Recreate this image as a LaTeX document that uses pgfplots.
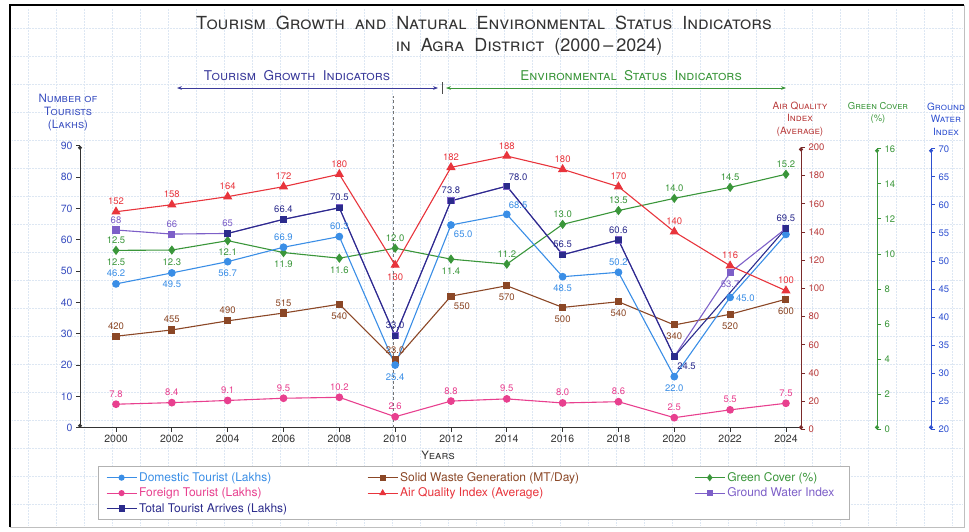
\documentclass[border=0pt]{standalone}
\usepackage{pgfplots}
\pgfplotsset{compat=1.18}
\usepackage{pgfplotstable}
\usepackage{fontspec}
\setmainfont{TeX Gyre Heros}
\usetikzlibrary{arrows.meta}

\definecolor{cDom}{HTML}{3A8EE6}
\definecolor{cFor}{HTML}{E8408F}
\definecolor{cTot}{HTML}{2B2B8C}
\definecolor{cSW}{HTML}{8B4726}
\definecolor{cAQI}{HTML}{E8343C}
\definecolor{cGrn}{HTML}{3A963A}
\definecolor{cGW}{HTML}{7D5FC8}
\definecolor{cAxL}{HTML}{3A4FC0}
\definecolor{cAQIax}{HTML}{7A2A2A}
\definecolor{cAQItxt}{HTML}{B83A3A}
\definecolor{cGWax}{HTML}{2E50D0}
\definecolor{cTitle}{HTML}{333333}
\definecolor{cGrid}{HTML}{DDE7F3}
\definecolor{cTour}{HTML}{3B3B9B}

% label placement helpers (label above, below, right, above-right, below-right)
\DeclareRobustCommand{\lN}[1]{\raisebox{7pt}{#1}}
\DeclareRobustCommand{\lS}[1]{\raisebox{-15pt}{#1}}
\DeclareRobustCommand{\lE}[1]{\rlap{\hspace{6pt}\raisebox{-4pt}{#1}}}
\DeclareRobustCommand{\lNE}[1]{\rlap{\hspace{2pt}\raisebox{6pt}{#1}}}
\DeclareRobustCommand{\lSE}[1]{\rlap{\hspace{3pt}\raisebox{-13pt}{#1}}}

\pgfplotstableread[col sep=comma]{
x,y,lab
2000,45.9,\lN{46.2}
2002,49.4,\lS{49.5}
2004,53.0,\lS{56.7}
2006,57.6,\lN{66.9}
2008,61.0,\lN{60.3}
2010,20.0,\lS{25.4}
2012,64.7,\lSE{65.0}
2014,68.1,\lNE{68.5}
2016,48.2,\lS{48.5}
2018,49.6,\lN{50.2}
2020,16.3,\lS{22.0}
2022,41.6,\lE{45.0}
2024,61.7,{}
}\tDom

\pgfplotstableread[col sep=comma]{
x,y,lab
2000,7.5,\lN{7.8}
2002,8.0,\lN{8.4}
2004,8.7,\lN{9.1}
2006,9.4,\lN{9.5}
2008,9.7,\lN{10.2}
2010,3.5,\lN{2.6}
2012,8.5,\lN{8.8}
2014,9.2,\lN{9.5}
2016,7.9,\lN{8.0}
2018,8.3,\lN{8.6}
2020,3.2,\lN{2.5}
2022,5.7,\lN{5.5}
2024,7.8,\lN{7.5}
}\tFor

\pgfplotstableread[col sep=comma]{
x,y,lab
2004,62.0,{}
2006,66.5,\lN{66.4}
2008,70.2,\lN{70.5}
2010,29.3,\lN{33.0}
2012,72.4,\lN{73.8}
2014,77.1,\lNE{78.0}
2016,55.2,\lN{56.5}
2018,59.9,\lN{60.6}
2020,22.7,\lSE{24.5}
2024,63.6,\lN{69.5}
}\tTot

\pgfplotstableread[col sep=comma]{
x,y,lab
2000,63.1,\lN{68}
2002,61.8,\lN{66}
2004,62.0,\lN{65}
2006,66.5,{}
2008,70.2,{}
2010,29.3,{}
2012,72.4,{}
2014,77.1,{}
2016,55.2,{}
2018,59.9,{}
2020,22.7,{}
2022,49.5,\lS{53.7}
2024,63.6,{}
}\tGW

\pgfplotstableread[col sep=comma]{
x,y,lab
2000,29.2,\lN{420}
2002,31.2,\lN{455}
2004,34.1,\lN{490}
2006,36.6,\lN{515}
2008,39.4,\lS{540}
2010,21.6,\lN{23.0}
2012,42.0,\lSE{550}
2014,45.3,\lS{570}
2016,38.4,\lS{500}
2018,40.2,\lS{540}
2020,32.8,\lS{340}
2022,36.2,\lS{520}
2024,41.0,\lS{600}
}\tSW

\pgfplotstableread[col sep=comma]{
x,y,lab
2000,56.6,\lS{12.5}
2002,56.7,\lS{12.3}
2004,59.7,\lS{12.1}
2006,55.9,\lS{11.9}
2008,54.1,\lS{11.6}
2010,57.3,\lN{12.0}
2012,53.8,\lS{11.4}
2014,52.2,\lN{11.2}
2016,64.9,\lN{13.0}
2018,69.3,\lN{13.5}
2020,73.2,\lN{14.0}
2022,76.7,\lN{14.5}
2024,80.9,\lN{15.2}
}\tGrn

\pgfplotstableread[col sep=comma]{
x,y,lab
2000,56.6,\lN{12.5}
}\tGrnB

\pgfplotstableread[col sep=comma]{
x,y,lab
2000,154.3,\lN{152}
2002,159.3,\lN{158}
2004,165.0,\lN{164}
2006,172.1,\lN{172}
2008,180.9,\lN{180}
2010,116.5,\lS{130}
2012,185.8,\lN{182}
2014,193.8,\lN{188}
2016,184.4,\lN{180}
2018,172.1,\lN{170}
2020,140.1,\lN{140}
2022,116.0,\lN{116}
2024,98.3,\lN{100}
}\tAQI

\pgfplotsset{
  lab/.style={nodes near coords, point meta=explicit symbolic,
    nodes near coords style={anchor=base, font=\fontsize{9.5}{11}\selectfont, inner sep=0pt, outer sep=0pt}},
  ser/.style={line width=1.1pt, color=#1, mark size=3.3pt, forget plot},
}

\begin{document}
\begin{tikzpicture}[x=1pt,y=1pt]
\useasboundingbox (0pt,0pt) rectangle (969pt,-531pt);
\draw[cGrid, line width=0.5pt, densely dotted] (12pt,-8pt) grid[step=28pt] (962pt,-525pt);
\draw[line width=2.5pt, black] (10pt,-527pt) -- (10pt,-5pt) -- (964pt,-5pt);
\draw[line width=1pt, gray!50] (964pt,-5pt) -- (964pt,-527pt) -- (10pt,-527pt);

\node[cTitle, anchor=base, font=\fontsize{18}{20}\selectfont\scshape] at (484pt,-29pt) {Tourism\ \ Growth\ \ and\ \ Natural\ \ Environmental\ \ Status\ \ Indicators};
\node[cTitle, anchor=base, font=\fontsize{18}{20}\selectfont\scshape] at (529pt,-51pt) {in\ \ Agra\ \ District\ \ (2000\,--\,2024)};

\node[cTour, font=\fontsize{13.5}{15}\selectfont\scshape] at (297pt,-76pt) {Tourism\ \ Growth\ \ Indicators};
\node[cGrn, font=\fontsize{13.5}{15}\selectfont\scshape] at (631pt,-76pt) {Environmental\ \ Status\ \ Indicators};
\draw[cTour, line width=1pt, {Stealth[length=5pt]}-{Stealth[length=5pt]}] (177pt,-88pt) -- (438pt,-88pt);
\draw[black!70, line width=0.8pt] (442pt,-82pt) -- (442pt,-94pt);
\draw[cGrn, line width=1pt, {Stealth[length=5pt]}-{Stealth[length=5pt]}] (446pt,-88pt) -- (786pt,-88pt);

\node[cAxL, align=center, font=\fontsize{11.5}{13}\selectfont\scshape] at (68pt,-113pt) {Number of\\Tourists\\(Lakhs)};
\node[cAQItxt, align=center, font=\fontsize{10}{12.5}\selectfont\scshape] at (800pt,-119pt) {Air Quality\\Index\\(Average)};
\node[cGrn, align=center, font=\fontsize{9.5}{12.5}\selectfont\scshape] at (878pt,-113pt) {Green Cover\\(\%)};
\node[cGWax, align=center, font=\fontsize{10}{12.5}\selectfont\scshape] at (946pt,-119pt) {Ground\\Water\\Index};
\node[black!80, font=\fontsize{11.5}{13}\selectfont\scshape] at (438pt,-455pt) {Years};

\begin{axis}[
  at={(80pt,-427.7pt)}, anchor=south west,
  width=721pt, height=282pt, scale only axis,
  xmin=1998.71, xmax=2024.54, ymin=0, ymax=90,
  axis x line=bottom, axis y line=left,
  x axis line style={-, line width=1pt, black!80},
  y axis line style={{Circle[length=4pt]}-{Circle[length=4pt]}, line width=1pt, black!80},
  xtick={2000,2002,...,2024}, ytick={0,10,...,90},
  xticklabel style={font=\fontsize{10.5}{12}\selectfont, text=black!80, /pgf/number format/1000 sep={}},
  yticklabel style={font=\fontsize{10.5}{12}\selectfont, text=cAxL},
  /pgf/number format/assume math mode=true,
  tick align=outside, major tick length=4pt,
  tick style={black!80, line width=0.8pt},
  clip=false,
  legend columns=3, legend cell align=left,
  legend image code/.code={\draw[mark repeat=2,mark phase=2,#1] plot coordinates {(0pt,0pt) (15pt,0pt) (30pt,0pt)};},
  legend style={at={(axis description cs:0.546,-0.2316)}, anchor=center, draw=gray!60, line width=1pt,
    font=\fontsize{12}{14}\selectfont, inner xsep=8pt, inner ysep=4pt, row sep=1pt},
]
\addlegendimage{cDom, line width=1.1pt, mark=*, mark size=2.5pt}
\addlegendentry{\textcolor{cDom}{\makebox[226pt][l]{Domestic Tourist (Lakhs)}}}
\addlegendimage{cSW, line width=1.1pt, mark=square*, mark size=2.5pt}
\addlegendentry{\textcolor{cSW}{\makebox[292pt][l]{Solid Waste Generation (MT/Day)}}}
\addlegendimage{cGrn, line width=1.1pt, mark=diamond*, mark size=2.8pt}
\addlegendentry{\textcolor{cGrn}{\makebox[112pt][l]{Green Cover (\%)}}}
\addlegendimage{cFor, line width=1.1pt, mark=*, mark size=2.5pt}
\addlegendentry{\textcolor{cFor}{Foreign Tourist (Lakhs)}}
\addlegendimage{cAQI, line width=1.1pt, mark=triangle*, mark size=3pt}
\addlegendentry{\textcolor{cAQI}{Air Quality Index (Average)}}
\addlegendimage{cGW, line width=1.1pt, mark=square*, mark size=2.5pt}
\addlegendentry{\textcolor{cGW}{Ground Water Index}}
\addlegendimage{cTot, line width=1.1pt, mark=square*, mark size=2.5pt}
\addlegendentry{\textcolor{cTot}{Total Tourist Arrives (Lakhs)}}

\draw[black!55, line width=1.2pt, dash pattern=on 3pt off 2.5pt] (axis cs:2009.93,0) -- (axis cs:2009.93,106);

\addplot[ser=cGrn, mark=diamond*, mark size=3.8pt, lab] table[x=x,y=y,meta=lab] {\tGrn};
\addplot[forget plot, draw=none, color=cGrn, lab] table[x=x,y=y,meta=lab] {\tGrnB};
\addplot[ser=cSW, mark=square*, mark size=3pt, lab] table[x=x,y=y,meta=lab] {\tSW};
\addplot[ser=cFor, mark=*, lab] table[x=x,y=y,meta=lab] {\tFor};
\addplot[ser=cGW, mark=square*, mark size=3pt, lab] table[x=x,y=y,meta=lab] {\tGW};
\addplot[ser=cDom, mark=*, lab] table[x=x,y=y,meta=lab] {\tDom};
\addplot[ser=cTot, mark=square*, mark size=2.7pt, lab] table[x=x,y=y,meta=lab] {\tTot};
\end{axis}

\begin{axis}[
  at={(80pt,-429.3pt)}, anchor=south west,
  width=721pt, height=282pt, scale only axis,
  xmin=1998.71, xmax=2024.54, ymin=0, ymax=200,
  axis x line=none, axis y line*=right,
  y axis line style={{Circle[length=4pt]}-{Circle[length=4pt]}, line width=1pt, cAQIax},
  ytick={0,20,...,200},
  yticklabel style={font=\fontsize{9.5}{11}\selectfont, text=cAQItxt},
  /pgf/number format/assume math mode=true,
  tick align=outside, major tick length=4pt,
  tick style={cAQIax, line width=0.8pt},
  clip=false,
]
\addplot[ser=cAQI, mark=triangle*, mark size=4.3pt, lab] table[x=x,y=y,meta=lab] {\tAQI};
\end{axis}

\begin{axis}[
  at={(877pt,-429.3pt)}, anchor=south east,
  width=10pt, height=280.6pt, scale only axis,
  xmin=0, xmax=1, ymin=0, ymax=16,
  axis x line=none, axis y line*=right,
  y axis line style={{Circle[length=4pt]}-{Circle[length=4pt]}, line width=1pt, cGrn},
  ytick={0,2,...,16},
  yticklabel style={font=\fontsize{9.5}{11}\selectfont, text=cGrn},
  /pgf/number format/assume math mode=true,
  tick align=outside, major tick length=4pt,
  tick style={cGrn, line width=0.8pt},
]
\end{axis}

\begin{axis}[
  at={(931pt,-429.3pt)}, anchor=south east,
  width=10pt, height=280.6pt, scale only axis,
  xmin=0, xmax=1, ymin=20, ymax=70,
  axis x line=none, axis y line*=right,
  y axis line style={{Circle[length=4pt]}-{Circle[length=4pt]}, line width=1pt, cGWax},
  ytick={20,25,...,70},
  yticklabel style={font=\fontsize{9.5}{11}\selectfont, text=cGWax},
  /pgf/number format/assume math mode=true,
  tick align=outside, major tick length=4pt,
  tick style={cGWax, line width=0.8pt},
]
\end{axis}
\end{tikzpicture}
\end{document}
